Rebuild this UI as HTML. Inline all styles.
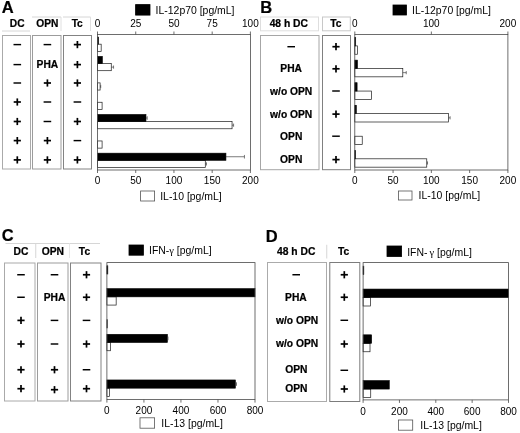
<!DOCTYPE html>
<html lang="en">
<head>
<meta charset="utf-8">
<title>Figure: cytokine secretion panels A-D</title>
<style>
html,body{margin:0;padding:0;background:#fff;}
body{width:520px;height:433px;overflow:hidden;}
svg{display:block;filter:blur(0.28px);font-family:'Liberation Sans', sans-serif;}
</style>
</head>
<body>
<svg width="520" height="433" viewBox="0 0 520 433">
<rect x="0" y="0" width="520" height="433" fill="#fff"/>
<text x="1.7" y="13.4" font-size="16.5" text-anchor="start" fill="#000" font-weight="bold" stroke="#000" stroke-width="0.22">A</text>
<text x="17.2" y="27" font-size="10.2" text-anchor="middle" fill="#000" font-weight="bold" stroke="#000" stroke-width="0.22">DC</text>
<text x="47.3" y="27" font-size="10.2" text-anchor="middle" fill="#000" font-weight="bold" stroke="#000" stroke-width="0.22">OPN</text>
<text x="77.2" y="27" font-size="10.2" text-anchor="middle" fill="#000" font-weight="bold" stroke="#000" stroke-width="0.22">Tc</text>
<line x1="2" y1="31" x2="30" y2="31" stroke="#d6d6d6" stroke-width="1"/>
<line x1="32" y1="17" x2="61" y2="17" stroke="#d6d6d6" stroke-width="1"/>
<line x1="61" y1="17" x2="61" y2="31" stroke="#e0e0e0" stroke-width="1"/>
<line x1="63" y1="17" x2="90.5" y2="17" stroke="#d6d6d6" stroke-width="1"/>
<line x1="90.5" y1="17" x2="90.5" y2="31" stroke="#e0e0e0" stroke-width="1"/>
<rect x="2.5" y="35.5" width="28" height="133.5" fill="none" stroke="#aaaaaa" stroke-width="1"/>
<rect x="32.5" y="35.5" width="28.5" height="133.5" fill="none" stroke="#9c9c9c" stroke-width="1"/>
<rect x="63.5" y="35.5" width="28" height="133.5" fill="none" stroke="#838383" stroke-width="1"/>
<line x1="13.5" y1="44.6" x2="21.1" y2="44.6" stroke="#000" stroke-width="1.45"/>
<line x1="43.6" y1="44.6" x2="51.199999999999996" y2="44.6" stroke="#000" stroke-width="1.45"/>
<line x1="73.80000000000001" y1="44.6" x2="81.0" y2="44.6" stroke="#000" stroke-width="1.7"/>
<line x1="77.4" y1="41.0" x2="77.4" y2="48.2" stroke="#000" stroke-width="1.7"/>
<line x1="13.5" y1="64.6" x2="21.1" y2="64.6" stroke="#000" stroke-width="1.45"/>
<text x="47.4" y="68.19999999999999" font-size="10.25" text-anchor="middle" fill="#000" font-weight="bold" stroke="#000" stroke-width="0.22">PHA</text>
<line x1="73.80000000000001" y1="64.6" x2="81.0" y2="64.6" stroke="#000" stroke-width="1.7"/>
<line x1="77.4" y1="60.99999999999999" x2="77.4" y2="68.19999999999999" stroke="#000" stroke-width="1.7"/>
<line x1="13.5" y1="83" x2="21.1" y2="83" stroke="#000" stroke-width="1.45"/>
<line x1="43.8" y1="83" x2="51.0" y2="83" stroke="#000" stroke-width="1.7"/>
<line x1="47.4" y1="79.4" x2="47.4" y2="86.6" stroke="#000" stroke-width="1.7"/>
<line x1="73.80000000000001" y1="83" x2="81.0" y2="83" stroke="#000" stroke-width="1.7"/>
<line x1="77.4" y1="79.4" x2="77.4" y2="86.6" stroke="#000" stroke-width="1.7"/>
<line x1="13.700000000000001" y1="102" x2="20.900000000000002" y2="102" stroke="#000" stroke-width="1.7"/>
<line x1="17.3" y1="98.4" x2="17.3" y2="105.6" stroke="#000" stroke-width="1.7"/>
<line x1="43.6" y1="102" x2="51.199999999999996" y2="102" stroke="#000" stroke-width="1.45"/>
<line x1="73.60000000000001" y1="102" x2="81.2" y2="102" stroke="#000" stroke-width="1.45"/>
<line x1="13.700000000000001" y1="121.5" x2="20.900000000000002" y2="121.5" stroke="#000" stroke-width="1.7"/>
<line x1="17.3" y1="117.9" x2="17.3" y2="125.1" stroke="#000" stroke-width="1.7"/>
<line x1="43.6" y1="121.5" x2="51.199999999999996" y2="121.5" stroke="#000" stroke-width="1.45"/>
<line x1="73.80000000000001" y1="121.5" x2="81.0" y2="121.5" stroke="#000" stroke-width="1.7"/>
<line x1="77.4" y1="117.9" x2="77.4" y2="125.1" stroke="#000" stroke-width="1.7"/>
<line x1="13.700000000000001" y1="140.6" x2="20.900000000000002" y2="140.6" stroke="#000" stroke-width="1.7"/>
<line x1="17.3" y1="137.0" x2="17.3" y2="144.2" stroke="#000" stroke-width="1.7"/>
<line x1="43.8" y1="140.6" x2="51.0" y2="140.6" stroke="#000" stroke-width="1.7"/>
<line x1="47.4" y1="137.0" x2="47.4" y2="144.2" stroke="#000" stroke-width="1.7"/>
<line x1="73.60000000000001" y1="140.6" x2="81.2" y2="140.6" stroke="#000" stroke-width="1.45"/>
<line x1="13.700000000000001" y1="159.9" x2="20.900000000000002" y2="159.9" stroke="#000" stroke-width="1.7"/>
<line x1="17.3" y1="156.3" x2="17.3" y2="163.5" stroke="#000" stroke-width="1.7"/>
<line x1="43.8" y1="159.9" x2="51.0" y2="159.9" stroke="#000" stroke-width="1.7"/>
<line x1="47.4" y1="156.3" x2="47.4" y2="163.5" stroke="#000" stroke-width="1.7"/>
<line x1="73.80000000000001" y1="159.9" x2="81.0" y2="159.9" stroke="#000" stroke-width="1.7"/>
<line x1="77.4" y1="156.3" x2="77.4" y2="163.5" stroke="#000" stroke-width="1.7"/>
<rect x="97.5" y="44.18" width="3.67" height="7.16" fill="#fff" stroke="#1a1a1a" stroke-width="0.7"/>
<rect x="97.5" y="37.02" width="1.07" height="7.16" fill="#000" stroke="#000" stroke-width="0.6"/>
<rect x="97.5" y="63.54" width="13.76" height="7.16" fill="#fff" stroke="#1a1a1a" stroke-width="0.7"/>
<line x1="111.261" y1="67.11678571428571" x2="113.55449999999999" y2="67.11678571428571" stroke="#444" stroke-width="0.7"/>
<line x1="113.55449999999999" y1="65.51678571428572" x2="113.55449999999999" y2="68.7167857142857" stroke="#444" stroke-width="0.7"/>
<rect x="97.5" y="56.37" width="4.89" height="7.16" fill="#000" stroke="#000" stroke-width="0.6"/>
<rect x="97.5" y="82.89" width="2.6" height="7.16" fill="#fff" stroke="#1a1a1a" stroke-width="0.7"/>
<line x1="100.0993" y1="86.47392857142857" x2="100.7109" y2="86.47392857142857" stroke="#444" stroke-width="0.7"/>
<line x1="100.7109" y1="84.87392857142858" x2="100.7109" y2="88.07392857142857" stroke="#444" stroke-width="0.7"/>
<rect x="97.5" y="102.25" width="4.59" height="7.16" fill="#fff" stroke="#1a1a1a" stroke-width="0.7"/>
<rect x="97.5" y="121.61" width="134.55" height="7.16" fill="#fff" stroke="#1a1a1a" stroke-width="0.7"/>
<line x1="232.05200000000002" y1="125.1882142857143" x2="233.58100000000002" y2="125.1882142857143" stroke="#444" stroke-width="0.7"/>
<line x1="233.58100000000002" y1="123.5882142857143" x2="233.58100000000002" y2="126.78821428571429" stroke="#444" stroke-width="0.7"/>
<rect x="97.5" y="114.45" width="48.47" height="7.16" fill="#000" stroke="#000" stroke-width="0.6"/>
<line x1="145.9693" y1="118.02607142857143" x2="147.1925" y2="118.02607142857143" stroke="#444" stroke-width="0.7"/>
<line x1="147.1925" y1="116.22607142857143" x2="147.1925" y2="119.82607142857142" stroke="#444" stroke-width="0.7"/>
<rect x="97.5" y="140.96" width="4.59" height="7.16" fill="#fff" stroke="#1a1a1a" stroke-width="0.7"/>
<rect x="97.5" y="160.32" width="107.79" height="7.16" fill="#fff" stroke="#1a1a1a" stroke-width="0.7"/>
<line x1="205.29450000000003" y1="163.90249999999997" x2="206.44125000000003" y2="163.90249999999997" stroke="#444" stroke-width="0.7"/>
<line x1="206.44125000000003" y1="162.30249999999998" x2="206.44125000000003" y2="165.50249999999997" stroke="#444" stroke-width="0.7"/>
<rect x="97.5" y="153.16" width="128.44" height="7.16" fill="#000" stroke="#000" stroke-width="0.6"/>
<line x1="225.936" y1="156.74035714285714" x2="244.4369" y2="156.74035714285714" stroke="#444" stroke-width="0.7"/>
<line x1="244.4369" y1="154.94035714285712" x2="244.4369" y2="158.54035714285715" stroke="#444" stroke-width="0.7"/>
<rect x="97.5" y="34.5" width="152.9" height="135.5" fill="none" stroke="#4a4a4a" stroke-width="0.8"/>
<line x1="97.5" y1="31.5" x2="97.5" y2="34.5" stroke="#4a4a4a" stroke-width="0.8"/>
<text x="97.5" y="27.2" font-size="10" text-anchor="middle" fill="#000">0</text>
<line x1="135.725" y1="31.5" x2="135.725" y2="34.5" stroke="#4a4a4a" stroke-width="0.8"/>
<text x="135.72" y="27.2" font-size="10" text-anchor="middle" fill="#000">25</text>
<line x1="173.95" y1="31.5" x2="173.95" y2="34.5" stroke="#4a4a4a" stroke-width="0.8"/>
<text x="173.95" y="27.2" font-size="10" text-anchor="middle" fill="#000">50</text>
<line x1="212.175" y1="31.5" x2="212.175" y2="34.5" stroke="#4a4a4a" stroke-width="0.8"/>
<text x="212.18" y="27.2" font-size="10" text-anchor="middle" fill="#000">75</text>
<line x1="250.4" y1="31.5" x2="250.4" y2="34.5" stroke="#4a4a4a" stroke-width="0.8"/>
<text x="250.4" y="27.2" font-size="10" text-anchor="middle" fill="#000">100</text>
<line x1="97.5" y1="170" x2="97.5" y2="173" stroke="#4a4a4a" stroke-width="0.8"/>
<text x="97.5" y="183.79999999999998" font-size="10" text-anchor="middle" fill="#000">0</text>
<line x1="135.725" y1="170" x2="135.725" y2="173" stroke="#4a4a4a" stroke-width="0.8"/>
<text x="135.72" y="183.79999999999998" font-size="10" text-anchor="middle" fill="#000">50</text>
<line x1="173.95" y1="170" x2="173.95" y2="173" stroke="#4a4a4a" stroke-width="0.8"/>
<text x="173.95" y="183.79999999999998" font-size="10" text-anchor="middle" fill="#000">100</text>
<line x1="212.175" y1="170" x2="212.175" y2="173" stroke="#4a4a4a" stroke-width="0.8"/>
<text x="212.18" y="183.79999999999998" font-size="10" text-anchor="middle" fill="#000">150</text>
<line x1="250.4" y1="170" x2="250.4" y2="173" stroke="#4a4a4a" stroke-width="0.8"/>
<text x="250.4" y="183.79999999999998" font-size="10" text-anchor="middle" fill="#000">200</text>
<rect x="135.6" y="4.6" width="14.4" height="10.5" fill="#000" stroke="#000" stroke-width="0.8"/>
<text x="155.6" y="14.2" font-size="10.45" text-anchor="start" fill="#000">IL-12p70 [pg/mL]</text>
<rect x="140.6" y="191" width="14" height="10" fill="#fff" stroke="#555" stroke-width="0.8"/>
<text x="160.2" y="199.8" font-size="10.45" text-anchor="start" fill="#000">IL-10 [pg/mL]</text>
<text x="260.2" y="13" font-size="16.5" text-anchor="start" fill="#000" font-weight="bold" stroke="#000" stroke-width="0.22">B</text>
<rect x="260.5" y="17" width="58" height="13.8" fill="none" stroke="#dedede" stroke-width="1"/>
<rect x="322.5" y="17" width="27.8" height="13.8" fill="none" stroke="#c8c8c8" stroke-width="1"/>
<text x="288.8" y="27.4" font-size="10.3" text-anchor="middle" fill="#000" font-weight="bold" stroke="#000" stroke-width="0.22">48 h DC</text>
<text x="335.8" y="27.4" font-size="10.3" text-anchor="middle" fill="#000" font-weight="bold" stroke="#000" stroke-width="0.22">Tc</text>
<rect x="260.5" y="35.5" width="58.5" height="134.2" fill="none" stroke="#a6a6a6" stroke-width="1"/>
<rect x="322.5" y="35.5" width="28" height="134.2" fill="none" stroke="#808080" stroke-width="1"/>
<line x1="287.4" y1="46.7" x2="295.0" y2="46.7" stroke="#000" stroke-width="1.45"/>
<line x1="332.4" y1="46.7" x2="339.6" y2="46.7" stroke="#000" stroke-width="1.7"/>
<line x1="336" y1="43.1" x2="336" y2="50.300000000000004" stroke="#000" stroke-width="1.7"/>
<text x="291.2" y="72.39999999999999" font-size="10.25" text-anchor="middle" fill="#000" font-weight="bold" stroke="#000" stroke-width="0.22">PHA</text>
<line x1="332.4" y1="68.8" x2="339.6" y2="68.8" stroke="#000" stroke-width="1.7"/>
<line x1="336" y1="65.2" x2="336" y2="72.39999999999999" stroke="#000" stroke-width="1.7"/>
<text x="291.2" y="94.6" font-size="10.25" text-anchor="middle" fill="#000" font-weight="bold" stroke="#000" stroke-width="0.22">w/o OPN</text>
<line x1="332.2" y1="91.0" x2="339.8" y2="91.0" stroke="#000" stroke-width="1.45"/>
<text x="291.2" y="117.69999999999999" font-size="10.25" text-anchor="middle" fill="#000" font-weight="bold" stroke="#000" stroke-width="0.22">w/o OPN</text>
<line x1="332.4" y1="114.1" x2="339.6" y2="114.1" stroke="#000" stroke-width="1.7"/>
<line x1="336" y1="110.5" x2="336" y2="117.69999999999999" stroke="#000" stroke-width="1.7"/>
<text x="291.2" y="139.79999999999998" font-size="10.25" text-anchor="middle" fill="#000" font-weight="bold" stroke="#000" stroke-width="0.22">OPN</text>
<line x1="332.2" y1="136.2" x2="339.8" y2="136.2" stroke="#000" stroke-width="1.45"/>
<text x="291.2" y="163.2" font-size="10.25" text-anchor="middle" fill="#000" font-weight="bold" stroke="#000" stroke-width="0.22">OPN</text>
<line x1="332.4" y1="159.6" x2="339.6" y2="159.6" stroke="#000" stroke-width="1.7"/>
<line x1="336" y1="156.0" x2="336" y2="163.2" stroke="#000" stroke-width="1.7"/>
<rect x="354.8" y="45.89" width="2.68" height="8.36" fill="#fff" stroke="#1a1a1a" stroke-width="0.7"/>
<rect x="354.8" y="37.54" width="0.92" height="8.36" fill="#000" stroke="#000" stroke-width="0.6"/>
<rect x="354.8" y="68.47" width="48.0" height="8.36" fill="#fff" stroke="#1a1a1a" stroke-width="0.7"/>
<line x1="402.79685" y1="72.65291666666666" x2="406.2416" y2="72.65291666666666" stroke="#444" stroke-width="0.7"/>
<line x1="406.2416" y1="71.05291666666666" x2="406.2416" y2="74.25291666666665" stroke="#444" stroke-width="0.7"/>
<rect x="354.8" y="60.12" width="2.68" height="8.36" fill="#000" stroke="#000" stroke-width="0.6"/>
<rect x="354.8" y="91.06" width="16.61" height="8.36" fill="#fff" stroke="#1a1a1a" stroke-width="0.7"/>
<rect x="354.8" y="82.7" width="2.3" height="8.36" fill="#000" stroke="#000" stroke-width="0.6"/>
<rect x="354.8" y="113.64" width="93.77" height="8.36" fill="#fff" stroke="#1a1a1a" stroke-width="0.7"/>
<line x1="448.57375" y1="117.81958333333331" x2="450.10475" y2="117.81958333333331" stroke="#444" stroke-width="0.7"/>
<line x1="450.10475" y1="116.21958333333332" x2="450.10475" y2="119.4195833333333" stroke="#444" stroke-width="0.7"/>
<rect x="354.8" y="105.29" width="1.53" height="8.36" fill="#000" stroke="#000" stroke-width="0.6"/>
<rect x="354.8" y="136.22" width="7.43" height="8.36" fill="#fff" stroke="#1a1a1a" stroke-width="0.7"/>
<rect x="354.8" y="158.81" width="71.96" height="8.36" fill="#fff" stroke="#1a1a1a" stroke-width="0.7"/>
<line x1="426.757" y1="162.98624999999998" x2="427.5225" y2="162.98624999999998" stroke="#444" stroke-width="0.7"/>
<line x1="427.5225" y1="161.38625" x2="427.5225" y2="164.58624999999998" stroke="#444" stroke-width="0.7"/>
<rect x="354.8" y="150.45" width="0.77" height="8.36" fill="#000" stroke="#000" stroke-width="0.6"/>
<rect x="354.8" y="34.5" width="153.09999999999997" height="135.5" fill="none" stroke="#4a4a4a" stroke-width="0.8"/>
<line x1="354.8" y1="31.5" x2="354.8" y2="34.5" stroke="#4a4a4a" stroke-width="0.8"/>
<text x="354.8" y="27.2" font-size="10" text-anchor="middle" fill="#000">0</text>
<line x1="431.35" y1="31.5" x2="431.35" y2="34.5" stroke="#4a4a4a" stroke-width="0.8"/>
<text x="431.35" y="27.2" font-size="10" text-anchor="middle" fill="#000">100</text>
<line x1="507.9" y1="31.5" x2="507.9" y2="34.5" stroke="#4a4a4a" stroke-width="0.8"/>
<text x="507.9" y="27.2" font-size="10" text-anchor="middle" fill="#000">200</text>
<line x1="354.8" y1="170" x2="354.8" y2="173" stroke="#4a4a4a" stroke-width="0.8"/>
<text x="354.8" y="183.79999999999998" font-size="10" text-anchor="middle" fill="#000">0</text>
<line x1="393.075" y1="170" x2="393.075" y2="173" stroke="#4a4a4a" stroke-width="0.8"/>
<text x="393.07" y="183.79999999999998" font-size="10" text-anchor="middle" fill="#000">50</text>
<line x1="431.35" y1="170" x2="431.35" y2="173" stroke="#4a4a4a" stroke-width="0.8"/>
<text x="431.35" y="183.79999999999998" font-size="10" text-anchor="middle" fill="#000">100</text>
<line x1="469.625" y1="170" x2="469.625" y2="173" stroke="#4a4a4a" stroke-width="0.8"/>
<text x="469.62" y="183.79999999999998" font-size="10" text-anchor="middle" fill="#000">150</text>
<line x1="507.9" y1="170" x2="507.9" y2="173" stroke="#4a4a4a" stroke-width="0.8"/>
<text x="507.9" y="183.79999999999998" font-size="10" text-anchor="middle" fill="#000">200</text>
<rect x="393" y="5" width="13.5" height="10" fill="#000" stroke="#000" stroke-width="0.8"/>
<text x="412" y="14" font-size="10.45" text-anchor="start" fill="#000">IL-12p70 [pg/mL]</text>
<rect x="398.5" y="191" width="13.5" height="9" fill="#fff" stroke="#555" stroke-width="0.8"/>
<text x="418.6" y="199.3" font-size="10.45" text-anchor="start" fill="#000">IL-10 [pg/mL]</text>
<text x="1.7" y="241.4" font-size="16.5" text-anchor="start" fill="#000" font-weight="bold" stroke="#000" stroke-width="0.22">C</text>
<line x1="5.5" y1="243.5" x2="100" y2="243.5" stroke="#d6d6d6" stroke-width="1"/>
<line x1="35.75" y1="243.5" x2="35.75" y2="258" stroke="#d6d6d6" stroke-width="1"/>
<line x1="69.5" y1="243.5" x2="69.5" y2="258" stroke="#e8e8e8" stroke-width="1"/>
<text x="21" y="255.3" font-size="10.3" text-anchor="middle" fill="#000" font-weight="bold" stroke="#000" stroke-width="0.22">DC</text>
<text x="52.9" y="255.3" font-size="10.3" text-anchor="middle" fill="#000" font-weight="bold" stroke="#000" stroke-width="0.22">OPN</text>
<text x="84.5" y="255.3" font-size="10.3" text-anchor="middle" fill="#000" font-weight="bold" stroke="#000" stroke-width="0.22">Tc</text>
<rect x="4.5" y="263" width="30.5" height="138" fill="none" stroke="#aaaaaa" stroke-width="1"/>
<rect x="37.5" y="263" width="30.5" height="138" fill="none" stroke="#9c9c9c" stroke-width="1"/>
<rect x="70.5" y="263" width="30.5" height="138" fill="none" stroke="#838383" stroke-width="1"/>
<line x1="17.2" y1="274.75" x2="24.8" y2="274.75" stroke="#000" stroke-width="1.45"/>
<line x1="50.7" y1="274.75" x2="58.3" y2="274.75" stroke="#000" stroke-width="1.45"/>
<line x1="82.9" y1="274.75" x2="90.1" y2="274.75" stroke="#000" stroke-width="1.7"/>
<line x1="86.5" y1="271.15" x2="86.5" y2="278.35" stroke="#000" stroke-width="1.7"/>
<line x1="17.2" y1="297.25" x2="24.8" y2="297.25" stroke="#000" stroke-width="1.45"/>
<text x="54.5" y="300.85" font-size="10.25" text-anchor="middle" fill="#000" font-weight="bold" stroke="#000" stroke-width="0.22">PHA</text>
<line x1="82.9" y1="297.25" x2="90.1" y2="297.25" stroke="#000" stroke-width="1.7"/>
<line x1="86.5" y1="293.65" x2="86.5" y2="300.85" stroke="#000" stroke-width="1.7"/>
<line x1="17.4" y1="320.4" x2="24.6" y2="320.4" stroke="#000" stroke-width="1.7"/>
<line x1="21" y1="316.79999999999995" x2="21" y2="324.0" stroke="#000" stroke-width="1.7"/>
<line x1="50.7" y1="320.4" x2="58.3" y2="320.4" stroke="#000" stroke-width="1.45"/>
<line x1="82.7" y1="320.4" x2="90.3" y2="320.4" stroke="#000" stroke-width="1.45"/>
<line x1="17.4" y1="344" x2="24.6" y2="344" stroke="#000" stroke-width="1.7"/>
<line x1="21" y1="340.4" x2="21" y2="347.6" stroke="#000" stroke-width="1.7"/>
<line x1="50.7" y1="344" x2="58.3" y2="344" stroke="#000" stroke-width="1.45"/>
<line x1="82.9" y1="344" x2="90.1" y2="344" stroke="#000" stroke-width="1.7"/>
<line x1="86.5" y1="340.4" x2="86.5" y2="347.6" stroke="#000" stroke-width="1.7"/>
<line x1="17.4" y1="369.75" x2="24.6" y2="369.75" stroke="#000" stroke-width="1.7"/>
<line x1="21" y1="366.15" x2="21" y2="373.35" stroke="#000" stroke-width="1.7"/>
<line x1="50.9" y1="369.75" x2="58.1" y2="369.75" stroke="#000" stroke-width="1.7"/>
<line x1="54.5" y1="366.15" x2="54.5" y2="373.35" stroke="#000" stroke-width="1.7"/>
<line x1="82.7" y1="369.75" x2="90.3" y2="369.75" stroke="#000" stroke-width="1.45"/>
<line x1="17.4" y1="388.7" x2="24.6" y2="388.7" stroke="#000" stroke-width="1.7"/>
<line x1="21" y1="385.09999999999997" x2="21" y2="392.3" stroke="#000" stroke-width="1.7"/>
<line x1="50.9" y1="389.7" x2="58.1" y2="389.7" stroke="#000" stroke-width="1.7"/>
<line x1="54.5" y1="386.09999999999997" x2="54.5" y2="393.3" stroke="#000" stroke-width="1.7"/>
<line x1="82.9" y1="388.7" x2="90.1" y2="388.7" stroke="#000" stroke-width="1.7"/>
<line x1="86.5" y1="385.09999999999997" x2="86.5" y2="392.3" stroke="#000" stroke-width="1.7"/>
<rect x="106.9" y="265.8" width="0.93" height="8.22" fill="#000" stroke="#000" stroke-width="0.6"/>
<rect x="106.9" y="296.85" width="9.26" height="8.22" fill="#fff" stroke="#1a1a1a" stroke-width="0.7"/>
<rect x="106.9" y="288.63" width="148.1" height="8.22" fill="#000" stroke="#000" stroke-width="0.6"/>
<rect x="106.9" y="319.68" width="0.56" height="8.22" fill="#fff" stroke="#1a1a1a" stroke-width="0.7"/>
<rect x="106.9" y="342.52" width="3.52" height="8.22" fill="#fff" stroke="#1a1a1a" stroke-width="0.7"/>
<rect x="106.9" y="334.3" width="60.54" height="8.22" fill="#000" stroke="#000" stroke-width="0.6"/>
<line x1="167.435875" y1="338.40666666666664" x2="167.99125" y2="338.40666666666664" stroke="#444" stroke-width="0.7"/>
<line x1="167.99125" y1="336.6066666666666" x2="167.99125" y2="340.20666666666665" stroke="#444" stroke-width="0.7"/>
<rect x="106.9" y="388.18" width="2.59" height="8.22" fill="#fff" stroke="#1a1a1a" stroke-width="0.7"/>
<rect x="106.9" y="379.96" width="128.48" height="8.22" fill="#000" stroke="#000" stroke-width="0.6"/>
<line x1="235.37675" y1="384.0733333333333" x2="236.48749999999998" y2="384.0733333333333" stroke="#444" stroke-width="0.7"/>
<line x1="236.48749999999998" y1="382.2733333333333" x2="236.48749999999998" y2="385.87333333333333" stroke="#444" stroke-width="0.7"/>
<rect x="106.9" y="262.6" width="148.1" height="137.0" fill="none" stroke="#4a4a4a" stroke-width="0.8"/>
<line x1="106.9" y1="399.6" x2="106.9" y2="402.6" stroke="#4a4a4a" stroke-width="0.8"/>
<text x="106.9" y="414.20000000000005" font-size="10" text-anchor="middle" fill="#000">0</text>
<line x1="143.925" y1="399.6" x2="143.925" y2="402.6" stroke="#4a4a4a" stroke-width="0.8"/>
<text x="143.93" y="414.20000000000005" font-size="10" text-anchor="middle" fill="#000">200</text>
<line x1="180.95" y1="399.6" x2="180.95" y2="402.6" stroke="#4a4a4a" stroke-width="0.8"/>
<text x="180.95" y="414.20000000000005" font-size="10" text-anchor="middle" fill="#000">400</text>
<line x1="217.975" y1="399.6" x2="217.975" y2="402.6" stroke="#4a4a4a" stroke-width="0.8"/>
<text x="217.97" y="414.20000000000005" font-size="10" text-anchor="middle" fill="#000">600</text>
<line x1="255.0" y1="399.6" x2="255.0" y2="402.6" stroke="#4a4a4a" stroke-width="0.8"/>
<text x="255.0" y="414.20000000000005" font-size="10" text-anchor="middle" fill="#000">800</text>
<rect x="129" y="245" width="14.4" height="10.2" fill="#000" stroke="#000" stroke-width="0.8"/>
<text x="149" y="254" font-size="10.45" text-anchor="start" fill="#000">IFN-<tspan font-family="Liberation Serif, serif" font-size="10.5">γ</tspan> [pg/mL]</text>
<rect x="140" y="417.8" width="14.6" height="10.4" fill="#fff" stroke="#555" stroke-width="0.8"/>
<text x="161.3" y="426.8" font-size="10.45" text-anchor="start" fill="#000">IL-13 [pg/mL]</text>
<text x="265.7" y="242.4" font-size="16.5" text-anchor="start" fill="#000" font-weight="bold" stroke="#000" stroke-width="0.22">D</text>
<line x1="326.75" y1="244.75" x2="326.75" y2="258.5" stroke="#d6d6d6" stroke-width="1"/>
<text x="296.2" y="255.3" font-size="10.3" text-anchor="middle" fill="#000" font-weight="bold" stroke="#000" stroke-width="0.22">48 h DC</text>
<text x="343.7" y="255.3" font-size="10.3" text-anchor="middle" fill="#000" font-weight="bold" stroke="#000" stroke-width="0.22">Tc</text>
<rect x="267.5" y="262.5" width="59" height="139" fill="none" stroke="#ababab" stroke-width="1"/>
<rect x="329.8" y="262.5" width="30" height="139" fill="none" stroke="#7c7c7c" stroke-width="1"/>
<line x1="292.4" y1="274.75" x2="300.0" y2="274.75" stroke="#000" stroke-width="1.45"/>
<line x1="340.7" y1="274.75" x2="347.90000000000003" y2="274.75" stroke="#000" stroke-width="1.7"/>
<line x1="344.3" y1="271.15" x2="344.3" y2="278.35" stroke="#000" stroke-width="1.7"/>
<text x="295.9" y="300.85" font-size="10.25" text-anchor="middle" fill="#000" font-weight="bold" stroke="#000" stroke-width="0.22">PHA</text>
<line x1="340.7" y1="297.25" x2="347.90000000000003" y2="297.25" stroke="#000" stroke-width="1.7"/>
<line x1="344.3" y1="293.65" x2="344.3" y2="300.85" stroke="#000" stroke-width="1.7"/>
<text x="297.1" y="323.90000000000003" font-size="10.25" text-anchor="middle" fill="#000" font-weight="bold" stroke="#000" stroke-width="0.22">w/o OPN</text>
<line x1="340.5" y1="320.3" x2="348.1" y2="320.3" stroke="#000" stroke-width="1.45"/>
<text x="297.1" y="346.6" font-size="10.25" text-anchor="middle" fill="#000" font-weight="bold" stroke="#000" stroke-width="0.22">w/o OPN</text>
<line x1="340.7" y1="344" x2="347.90000000000003" y2="344" stroke="#000" stroke-width="1.7"/>
<line x1="344.3" y1="340.4" x2="344.3" y2="347.6" stroke="#000" stroke-width="1.7"/>
<text x="296.3" y="373.1" font-size="10.25" text-anchor="middle" fill="#000" font-weight="bold" stroke="#000" stroke-width="0.22">OPN</text>
<line x1="340.5" y1="370.3" x2="348.1" y2="370.3" stroke="#000" stroke-width="1.45"/>
<text x="296.3" y="392.0" font-size="10.25" text-anchor="middle" fill="#000" font-weight="bold" stroke="#000" stroke-width="0.22">OPN</text>
<line x1="340.7" y1="389" x2="347.90000000000003" y2="389" stroke="#000" stroke-width="1.7"/>
<line x1="344.3" y1="385.4" x2="344.3" y2="392.6" stroke="#000" stroke-width="1.7"/>
<rect x="363.1" y="266.17" width="0.73" height="8.47" fill="#000" stroke="#000" stroke-width="0.6"/>
<rect x="363.1" y="297.53" width="7.27" height="8.47" fill="#fff" stroke="#1a1a1a" stroke-width="0.7"/>
<rect x="363.1" y="289.06" width="145.4" height="8.47" fill="#000" stroke="#000" stroke-width="0.6"/>
<rect x="363.1" y="343.29" width="6.91" height="8.47" fill="#fff" stroke="#1a1a1a" stroke-width="0.7"/>
<rect x="363.1" y="334.82" width="8.54" height="8.47" fill="#000" stroke="#000" stroke-width="0.6"/>
<rect x="363.1" y="389.06" width="7.63" height="8.47" fill="#fff" stroke="#1a1a1a" stroke-width="0.7"/>
<rect x="363.1" y="380.59" width="26.17" height="8.47" fill="#000" stroke="#000" stroke-width="0.6"/>
<rect x="363.1" y="262.6" width="145.39999999999998" height="137.29999999999995" fill="none" stroke="#4a4a4a" stroke-width="0.8"/>
<line x1="363.1" y1="399.9" x2="363.1" y2="402.9" stroke="#4a4a4a" stroke-width="0.8"/>
<text x="363.1" y="415.3" font-size="10" text-anchor="middle" fill="#000">0</text>
<line x1="399.45000000000005" y1="399.9" x2="399.45000000000005" y2="402.9" stroke="#4a4a4a" stroke-width="0.8"/>
<text x="399.45" y="415.3" font-size="10" text-anchor="middle" fill="#000">200</text>
<line x1="435.8" y1="399.9" x2="435.8" y2="402.9" stroke="#4a4a4a" stroke-width="0.8"/>
<text x="435.8" y="415.3" font-size="10" text-anchor="middle" fill="#000">400</text>
<line x1="472.15" y1="399.9" x2="472.15" y2="402.9" stroke="#4a4a4a" stroke-width="0.8"/>
<text x="472.15" y="415.3" font-size="10" text-anchor="middle" fill="#000">600</text>
<line x1="508.5" y1="399.9" x2="508.5" y2="402.9" stroke="#4a4a4a" stroke-width="0.8"/>
<text x="508.5" y="415.3" font-size="10" text-anchor="middle" fill="#000">800</text>
<rect x="387" y="246" width="14.6" height="10.5" fill="#000" stroke="#000" stroke-width="0.8"/>
<text x="407.2" y="255.9" font-size="10.45" text-anchor="start" fill="#000">IFN-<tspan dx="2" font-family="Liberation Serif, serif" font-size="10.5">γ</tspan> [pg/mL]</text>
<rect x="398.5" y="420" width="14.2" height="10.2" fill="#fff" stroke="#555" stroke-width="0.8"/>
<text x="420.3" y="428.5" font-size="10.45" text-anchor="start" fill="#000">IL-13 [pg/mL]</text>
</svg>
</body>
</html>
